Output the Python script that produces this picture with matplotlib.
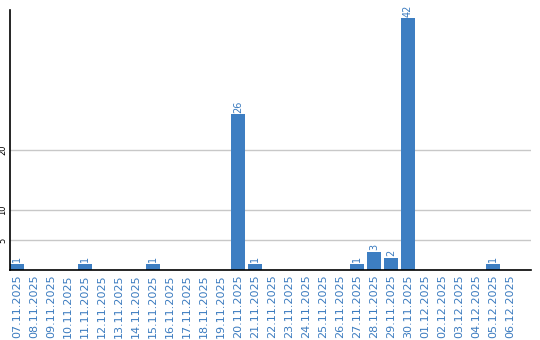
import matplotlib.pyplot as plt
import pandas as pd

# daily counts
dates = pd.date_range("2025-11-07", "2025-12-06", freq="D")
labels = [d.strftime("%d.%m.%Y") for d in dates]
counts = [1, 0, 0, 0, 1, 0, 0, 0, 1, 0,
          0, 0, 0, 26, 1, 0, 0, 0, 0, 0,
          1, 3, 2, 42, 0, 0, 0, 0, 1, 0]
yticks = [5, 10, 20]

blue = "#3d7ec2"
txt_blue = "#3b7bbf"

fig = plt.figure(figsize=(5.4, 3.4), dpi=100)
ax = fig.add_axes([10 / 540, 70 / 340, 521 / 540, 260 / 340])

x = list(range(len(counts)))
w = 14 / 17
bars = ax.bar(x, counts, width=w, color=blue, zorder=3)

for xi, v in zip(x, counts):
    if v > 0:
        ax.text(xi, v + 0.25, str(v), rotation=90, ha="center", va="bottom",
                color=txt_blue, fontsize=7, clip_on=False)

ax.set_xlim(-w / 2, -w / 2 + 521 / 17)
ax.set_ylim(0, 260 / 6)
ax.set_xticks(x)
ax.set_xticklabels(labels, rotation=90, color=txt_blue, fontsize=8)
ax.set_yticks(yticks)
ax.set_yticklabels([str(t) for t in yticks], rotation=90, fontsize=6,
                   va="center", ha="center")
ax.tick_params(axis="both", length=0)
ax.tick_params(axis="x", pad=3)
ax.tick_params(axis="y", pad=5)
ax.grid(axis="y", color="#c8c8c8", linewidth=1, zorder=0)

for s in ["top", "right"]:
    ax.spines[s].set_visible(False)
ax.spines["left"].set_linewidth(1.2)
ax.spines["bottom"].set_linewidth(1.2)
ax.spines["left"].set_zorder(4)
ax.spines["bottom"].set_zorder(4)

fig.savefig("out.png", dpi=100)
